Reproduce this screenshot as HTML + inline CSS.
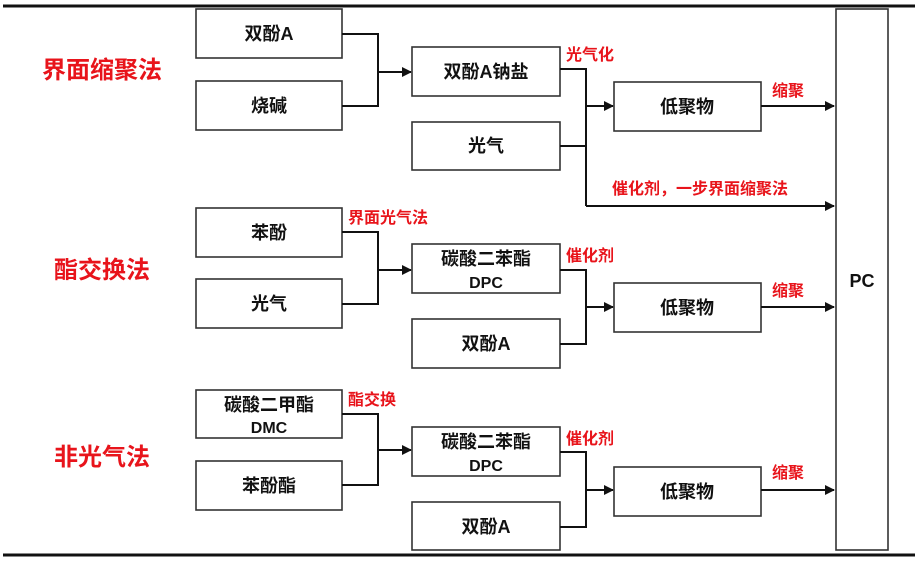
<!DOCTYPE html>
<html><head><meta charset="utf-8"><style>
html,body{margin:0;padding:0;background:#fff;}
svg{display:block;}
text{font-family:"Liberation Sans","Noto Sans CJK SC",sans-serif;font-weight:bold;}
.b{font-size:18px;fill:#111;text-anchor:middle;}
.r{font-size:16px;fill:#e8141b;}
.L{font-size:24px;fill:#e8141b;text-anchor:middle;}
rect{fill:#fff;stroke:#333;stroke-width:1.6;}
.l{fill:none;stroke:#111;stroke-width:2;}
</style></head><body>
<svg width="924" height="562" viewBox="0 0 924 562">
<defs><marker id="a" markerWidth="10" markerHeight="10" refX="9" refY="5" orient="auto" markerUnits="userSpaceOnUse"><path d="M0,0 L10,5 L0,10 z" fill="#111"/></marker></defs>
<line x1="3" y1="6" x2="915" y2="6" stroke="#111" stroke-width="3"/>
<line x1="3" y1="555" x2="915" y2="555" stroke="#111" stroke-width="3"/>
<rect x="836" y="9" width="52" height="541"/>
<text class="b" x="862" y="287">PC</text>

<text class="L" x="102" y="78">界面缩聚法</text>
<text class="L" x="102" y="278">酯交换法</text>
<text class="L" x="102" y="465">非光气法</text>

<!-- section1 -->
<rect x="196" y="9" width="146" height="49"/><text class="b" x="269" y="40">双酚A</text>
<rect x="196" y="81" width="146" height="49"/><text class="b" x="269" y="112">烧碱</text>
<path class="l" d="M342,34 H378 V106 H342 M378,72 H411" marker-end="url(#a)"/>
<rect x="412" y="47" width="148" height="49"/><text class="b" x="486" y="78">双酚A钠盐</text>
<rect x="412" y="122" width="148" height="48"/><text class="b" x="486" y="152">光气</text>
<path class="l" d="M560,69 H586 V206 M560,146 H586 M586,106 H613" marker-end="url(#a)"/>
<path class="l" d="M586,206 H834" marker-end="url(#a)"/>
<text class="r" x="566" y="60">光气化</text>
<rect x="614" y="82" width="147" height="49"/><text class="b" x="687" y="113">低聚物</text>
<path class="l" d="M761,106 H834" marker-end="url(#a)"/>
<text class="r" x="772" y="96">缩聚</text>
<text class="r" x="612" y="194">催化剂，一步界面缩聚法</text>

<!-- section2 -->
<rect x="196" y="208" width="146" height="49"/><text class="b" x="269" y="239">苯酚</text>
<rect x="196" y="279" width="146" height="49"/><text class="b" x="269" y="310">光气</text>
<path class="l" d="M342,232 H378 V304 H342 M378,270 H411" marker-end="url(#a)"/>
<text class="r" x="348" y="223">界面光气法</text>
<rect x="412" y="244" width="148" height="49"/><text class="b" x="486" y="265">碳酸二苯酯</text><text class="b" x="486" y="288" style="font-size:16px">DPC</text>
<rect x="412" y="319" width="148" height="49"/><text class="b" x="486" y="350">双酚A</text>
<path class="l" d="M560,270 H586 V344 H560 M586,307 H613" marker-end="url(#a)"/>
<text class="r" x="566" y="261">催化剂</text>
<rect x="614" y="283" width="147" height="49"/><text class="b" x="687" y="314">低聚物</text>
<path class="l" d="M761,307 H834" marker-end="url(#a)"/>
<text class="r" x="772" y="296">缩聚</text>

<!-- section3 -->
<rect x="196" y="390" width="146" height="48"/><text class="b" x="269" y="411">碳酸二甲酯</text><text class="b" x="269" y="433" style="font-size:16px">DMC</text>
<rect x="196" y="461" width="146" height="49"/><text class="b" x="269" y="492">苯酚酯</text>
<path class="l" d="M342,414 H378 V485 H342 M378,450 H411" marker-end="url(#a)"/>
<text class="r" x="348" y="405">酯交换</text>
<rect x="412" y="427" width="148" height="49"/><text class="b" x="486" y="448">碳酸二苯酯</text><text class="b" x="486" y="471" style="font-size:16px">DPC</text>
<rect x="412" y="502" width="148" height="48"/><text class="b" x="486" y="533">双酚A</text>
<path class="l" d="M560,452 H586 V527 H560 M586,490 H613" marker-end="url(#a)"/>
<text class="r" x="566" y="444">催化剂</text>
<rect x="614" y="467" width="147" height="49"/><text class="b" x="687" y="498">低聚物</text>
<path class="l" d="M761,490 H834" marker-end="url(#a)"/>
<text class="r" x="772" y="478">缩聚</text>
</svg>
</body></html>
